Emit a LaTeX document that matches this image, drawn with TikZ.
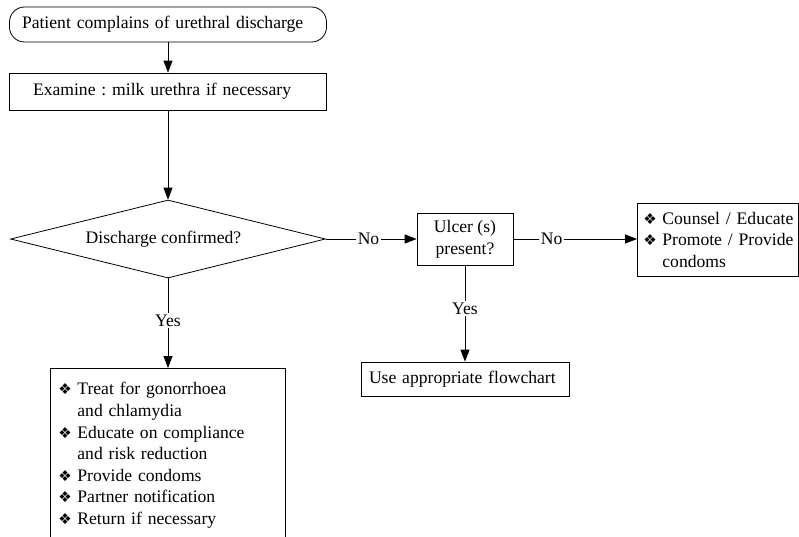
\documentclass[tikz,border=0pt]{standalone}
\usepackage{fontspec}
\setmainfont{Liberation Serif}
\newfontfamily\symfont{DejaVu Sans}
\usetikzlibrary{shapes.geometric,arrows.meta}
\newcommand{\bul}{\makebox[19pt][l]{\symfont\fontsize{15}{15}\selectfont ❖}}
\newcommand{\ind}{\hspace*{19pt}}
\frenchspacing
\begin{document}
\begin{tikzpicture}[x=1pt,y=-1pt,
  font=\fontsize{17.6}{21.6}\selectfont\frenchspacing,
  box/.style={draw, line width=0.8pt, inner sep=0pt},
  lbox/.style={draw, line width=0.8pt, align=left, inner ysep=0pt},
  conn/.style={draw, line width=0.8pt, -{Triangle[length=12pt,width=9pt]}},
  lbl/.style={fill=white, inner sep=1.5pt}]
\useasboundingbox (0,0) rectangle (799,536);
\node[lbox, rounded corners=15pt, text width=292pt, inner xsep=12.5pt, minimum height=35pt] (start) at (168,24.5) {Patient complains of urethral discharge};
\node[lbox, text width=270pt, inner xsep=23.5pt, minimum height=37pt] (examine) at (168,91.5) {Examine : milk urethra if necessary};
\node[box, shape=diamond, aspect=4, minimum width=315pt, minimum height=78pt] (dec) at (168,239) {\hspace*{-9pt}Discharge confirmed?};
\node[box, align=center, minimum width=96pt, minimum height=52pt] (ulcer) at (465,239) {Ulcer (s)\\present?};
\node[lbox, text width=192pt, inner xsep=8pt, minimum height=34pt] (use) at (465,379) {Use appropriate flowchart};
\node[lbox, anchor=north west, text width=149pt, inner xsep=6pt, minimum height=73pt] (counsel) at (637,203)
  {\mbox{\bul Counsel / Educate}\\\mbox{\bul Promote / Provide}\\\ind condoms};
\node[lbox, anchor=north west, text width=219pt, inner xsep=8pt, inner ysep=14pt] (treat) at (50,368)
  {\bul Treat for gonorrhoea\\\ind and chlamydia\\\bul Educate on compliance\\\ind and risk reduction\\\bul Provide condoms\\\bul Partner notification\\\bul Return if necessary\rule[-40pt]{0pt}{40pt}};
\draw[conn] (start.south) -- (examine.north);
\draw[conn] (examine.south) -- (dec.north);
\draw[conn] (dec.east) -- node[lbl,pos=0.47]{No} (ulcer.west);
\draw[conn] (ulcer.east) -- node[lbl,pos=0.31]{No} (ulcer.east -| counsel.west);
\draw[conn] (ulcer.south) -- node[lbl,pos=0.45]{Yes} (use.north);
\draw[conn] (dec.south) -- node[lbl,pos=0.47]{Yes} (dec.south |- treat.north);
\end{tikzpicture}
\end{document}
